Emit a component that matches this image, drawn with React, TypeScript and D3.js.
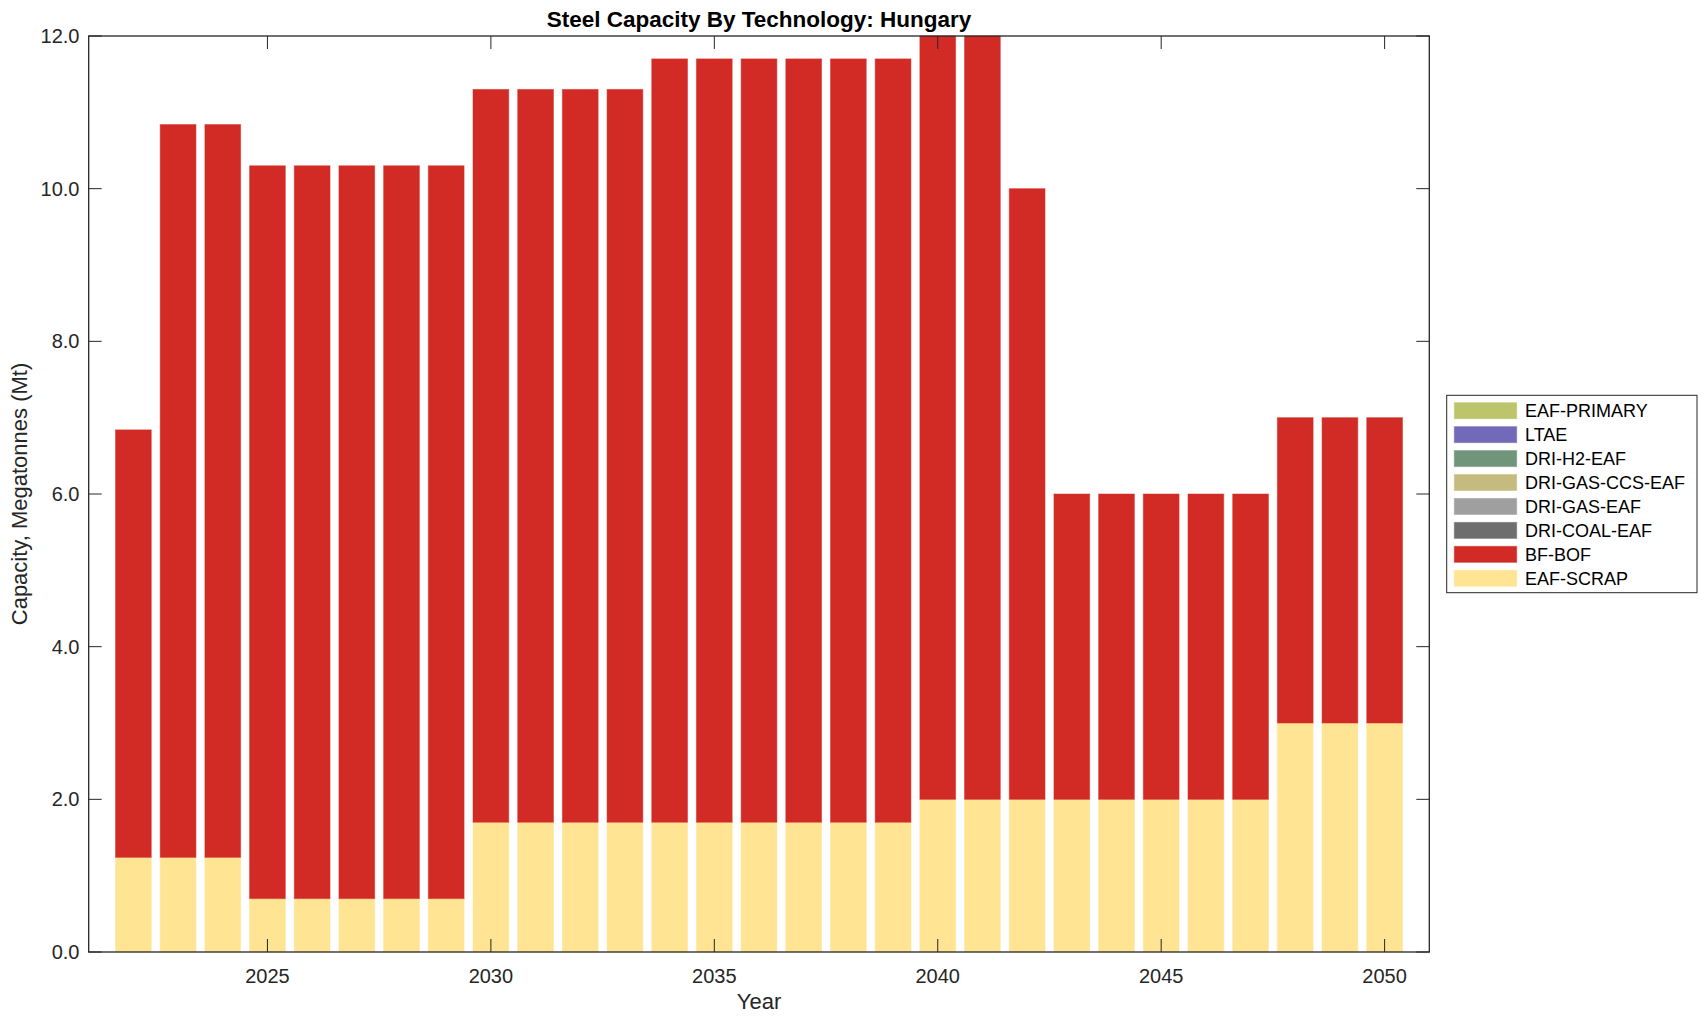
import React, { useEffect } from "react";
import * as d3 from "d3";

const years = d3.range(2022, 2051);
const eafScrap = [1.24, 1.24, 1.24, 0.7, 0.7, 0.7, 0.7, 0.7, 1.7, 1.7, 1.7, 1.7, 1.7, 1.7, 1.7, 1.7, 1.7, 1.7, 2, 2, 2, 2, 2, 2, 2, 2, 3, 3, 3];
const bfBof = [5.6, 9.6, 9.6, 9.6, 9.6, 9.6, 9.6, 9.6, 9.6, 9.6, 9.6, 9.6, 10, 10, 10, 10, 10, 10, 10, 10, 8, 4, 4, 4, 4, 4, 4, 4, 4];
const zeros = years.map(() => 0);

const seriesNames = ["EAF-SCRAP", "BF-BOF", "DRI-COAL-EAF", "DRI-GAS-EAF", "DRI-GAS-CCS-EAF", "DRI-H2-EAF", "LTAE", "EAF-PRIMARY"];
const seriesColors = ["#FFE494", "#D22B26", "#6E6E6E", "#9F9F9F", "#C6BB7E", "#71957A", "#7269B8", "#BCC56B"];
const seriesValues = [eafScrap, bfBof, zeros, zeros, zeros, zeros, zeros, zeros];

const xTicks = [2025, 2030, 2035, 2040, 2045, 2050];
const yTicks = [0, 2, 4, 6, 8, 10, 12];

const W = 1708, H = 1021;
const L = 88.7, R = 1429.3, T = 36, B = 952;
const FONT = "'Liberation Sans', Arial, Helvetica, sans-serif";
const AX = "#262626";

export default function App() {
  useEffect(() => {
    document.body.style.margin = "0";
  }, []);
  const x = d3.scaleLinear().domain([2021, 2051]).range([L, R]);
  const y = d3.scaleLinear().domain([0, 12]).range([B, T]);
  const bw = x(2021.8) - x(2021);

  const rows = years.map((yr, i) => {
    const r: any = { year: yr };
    seriesNames.forEach((n, k) => (r[n] = seriesValues[k][i]));
    return r;
  });
  const stacked = d3.stack().keys(seriesNames)(rows);
  const tl = 13;

  const legendX = 1446.7, legendY = 395.3, legendW = 250.3, legendH = 197.4;
  const rowH = 23.94;
  const legendOrder = [...seriesNames.map((n, i) => ({ n, c: seriesColors[i] }))].reverse();

  return (
    <svg width={W} height={H} style={{ display: "block", background: "#fff" }} fontFamily={FONT}>
      <text x={(L + R) / 2} y={27} textAnchor="middle" fontSize={22.5} fontWeight="bold" fill="#000">
        Steel Capacity By Technology: Hungary
      </text>
      {stacked.map((s, k) =>
        s.map((d, i) =>
          d[1] - d[0] > 0 ? (
            <rect
              key={k + "-" + i}
              x={x(years[i]) - bw / 2}
              y={y(d[1])}
              width={bw}
              height={y(d[0]) - y(d[1])}
              fill={seriesColors[k]}
              stroke={seriesColors[k]}
              strokeOpacity={0.5}
              strokeWidth={1}
            />
          ) : null
        )
      )}
      <rect x={L} y={T} width={R - L} height={B - T} fill="none" stroke={AX} strokeWidth={1.3} />
      {xTicks.map((t) => (
        <g key={"x" + t}>
          <line x1={x(t)} x2={x(t)} y1={B} y2={B - tl} stroke={AX} strokeWidth={1} />
          <line x1={x(t)} x2={x(t)} y1={T} y2={T + tl} stroke={AX} strokeWidth={1} />
          <text x={x(t)} y={983} textAnchor="middle" fontSize={20} fill={AX}>
            {t}
          </text>
        </g>
      ))}
      {yTicks.map((t) => (
        <g key={"y" + t}>
          <line x1={L} x2={L + tl} y1={y(t)} y2={y(t)} stroke={AX} strokeWidth={1} />
          <line x1={R} x2={R - tl} y1={y(t)} y2={y(t)} stroke={AX} strokeWidth={1} />
          <text x={79.5} y={y(t) + 7} textAnchor="end" fontSize={20} fill={AX}>
            {t.toFixed(1)}
          </text>
        </g>
      ))}
      <text x={(L + R) / 2} y={1009} textAnchor="middle" fontSize={22} fill={AX}>
        Year
      </text>
      <text
        transform={`translate(27,${(T + B) / 2}) rotate(-90)`}
        textAnchor="middle"
        fontSize={22}
        fill={AX}
      >
        Capacity, Megatonnes (Mt)
      </text>
      <rect x={legendX} y={legendY} width={legendW} height={legendH} fill="#fff" stroke={AX} strokeWidth={1} />
      {legendOrder.map((e, i) => {
        const cy = 410.7 + i * rowH;
        return (
          <g key={"l" + e.n}>
            <rect x={1454.3} y={cy - 8} width={62.4} height={16} fill={e.c} stroke={e.c} strokeOpacity={0.5} />
            <text x={1525} y={cy + 6.5} fontSize={18} fill="#000">
              {e.n}
            </text>
          </g>
        );
      })}
    </svg>
  );
}
